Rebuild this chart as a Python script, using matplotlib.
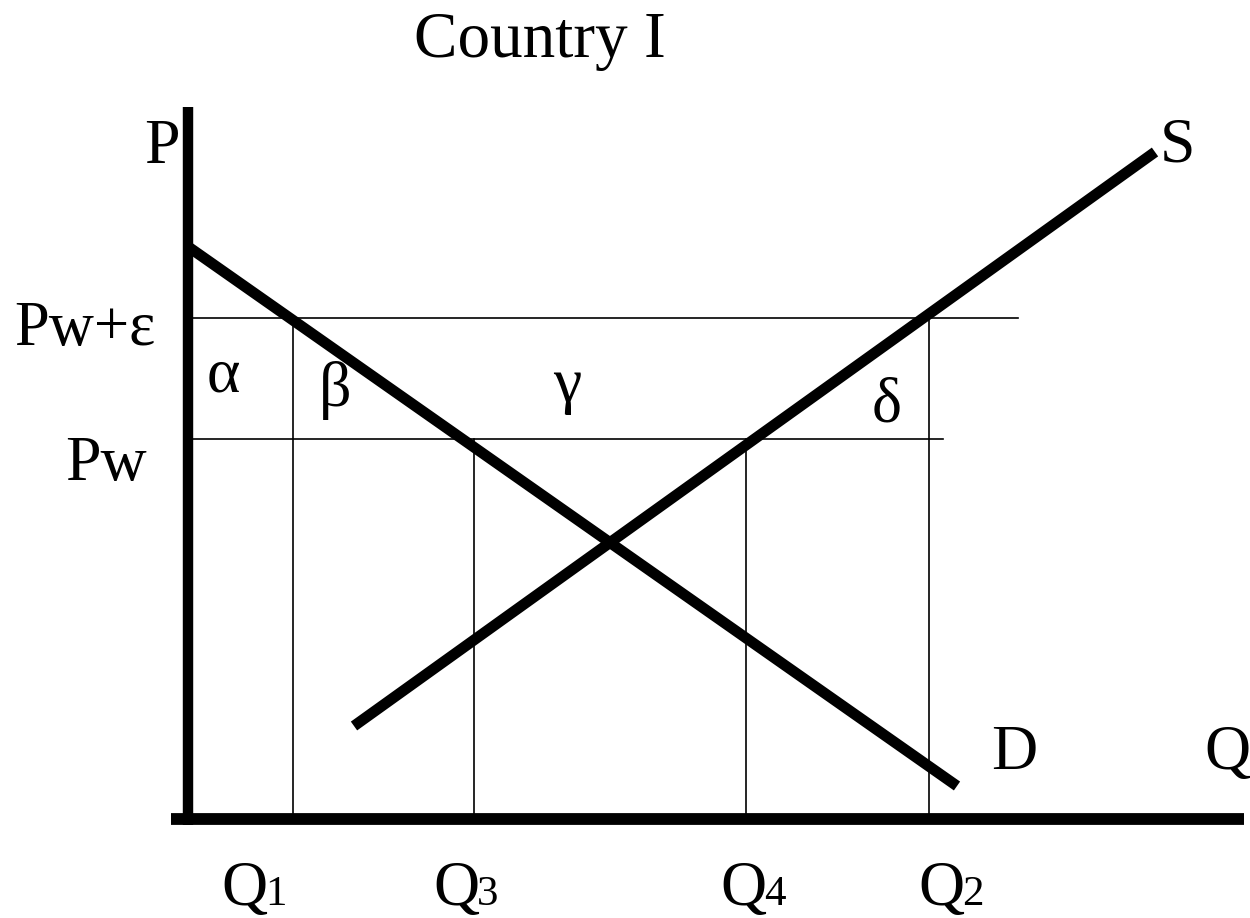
import matplotlib.pyplot as plt

# data (quantity / price units, origin at the axes corner)
demand_q = [2.5, 769.5]
demand_p = [571, 33]
supply_q = [166.5, 967.5]
supply_p = [93, 667]

p_levels = [501, 380]            # Pw+eps, Pw
p_level_ends = [830.5, 755.5]    # how far each price line runs
q_marks = [105.5, 286.5, 558.5, 741.5]   # Q1, Q3, Q4, Q2
q_mark_tops = [501, 380, 380, 501]

FIG_W, FIG_H = 12.5, 9.18
X0, Y0 = 187.5, 819  # pixel position of the origin

fig = plt.figure(figsize=(FIG_W, FIG_H), dpi=100, facecolor="white")
ax = fig.add_axes([0, 0, 1, 1])
ax.set_xlim(-X0, 1250 - X0)
ax.set_ylim(Y0 - 918, Y0)
ax.axis("off")

FONT = "Liberation Serif"
BIG = 46
SMALL = 31


def px(x, y):
    return x - X0, Y0 - y


def label(x, y, s, size=BIG, ha="center"):
    ax.text(*px(x, y), s, ha=ha, va="baseline", fontsize=size,
            fontfamily=FONT, color="black")


# axes
ax.plot([0, 0], [-6, 712], color="black", lw=7.5, solid_capstyle="butt")
ax.plot([-16.5, 1056.5], [0, 0], color="black", lw=8.5, solid_capstyle="butt")

# price lines and quantity drops
for p, end in zip(p_levels, p_level_ends):
    ax.plot([0, end], [p, p], color="black", lw=1.2)
for q, top in zip(q_marks, q_mark_tops):
    ax.plot([q, q], [0, top], color="black", lw=1.2)

# curves
ax.plot(demand_q, demand_p, color="black", lw=7.8, solid_capstyle="butt")
ax.plot(supply_q, supply_p, color="black", lw=7.8, solid_capstyle="butt")

# texts
label(540, 57, "Country I", size=47)
label(180, 163, "P", ha="right")
label(156, 345, "Pw+ε", ha="right", size=45)
label(147, 480, "Pw", ha="right")
label(223, 392, "α")
label(335, 406, "β")
label(567, 401, "γ")
label(887, 421, "δ")
label(1160, 162, "S", ha="left")
label(991, 769, "D", ha="left")
label(1204, 769, "Q", ha="left")

for x, d in [(221, "1"), (433, "3"), (720, "4"), (918, "2")]:
    label(x, 905, "Q", ha="left")
    label(x + 44, 905, d, size=SMALL, ha="left")

plt.savefig("out.png", dpi=100, facecolor="white")
plt.close()
